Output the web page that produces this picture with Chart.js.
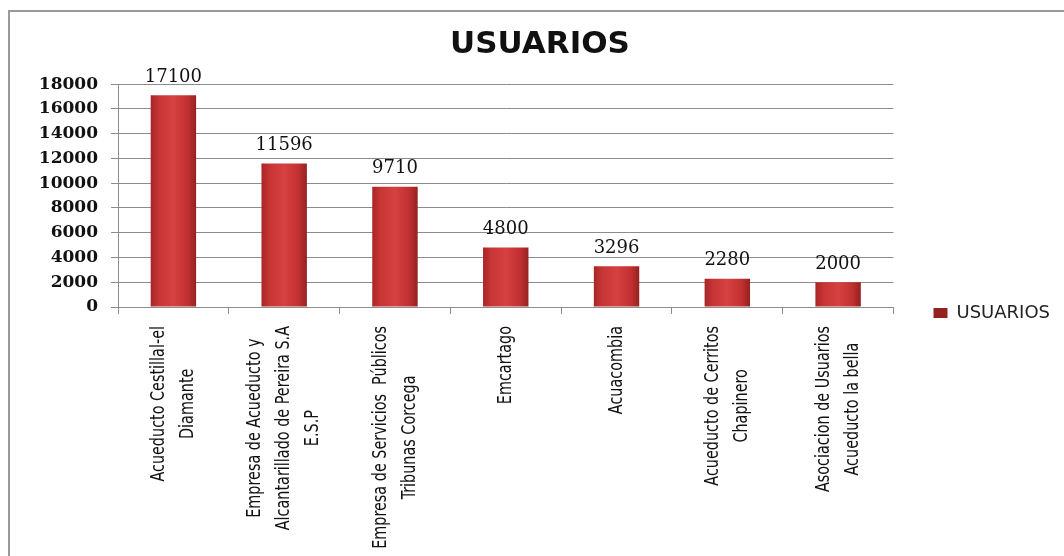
<!DOCTYPE html>
<html>
<head>
<meta charset="utf-8">
<script src="https://cdn.jsdelivr.net/npm/chart.js@4/dist/chart.umd.min.js"></script>
<style>
  body { margin: 0; background: #fff; }
</style>
</head>
<body>
<canvas id="usuarios" width="1064" height="556"></canvas>
<script>
// datos
const categorias = [
    ["Acueducto Cestillal-el", "Diamante"],
    ["Empresa de Acueducto y", "Alcantarillado de Pereira S.A", "E.S.P"],
    ["Empresa de Servicios  Públicos", "Tribunas Corcega"],
    ["Emcartago"],
    ["Acuacombia"],
    ["Acueducto de Cerritos", "Chapinero"],
    ["Asociacion de Usuarios", "Acueducto la bella"]
];
const usuarios = [17100, 11596, 9710, 4800, 3296, 2280, 2000];
const ticksY = [0, 2000, 4000, 6000, 8000, 10000, 12000, 14000, 16000, 18000];

const gris = '#8c8c8c';
const rojo = '#c33131';

// relleno rojo con efecto de volumen
function rellenoBarra(ctx) {
    const chart = ctx.chart;
    const x = chart.scales.x;
    if (ctx.type !== 'data' || !x || !x.width) return rojo;
    const cx = x.getPixelForValue(ctx.dataIndex);
    const mitad = x.width / categorias.length * 0.41 / 2;
    const g = chart.ctx.createLinearGradient(cx - mitad, 0, cx + mitad, 0);
    g.addColorStop(0, '#a82626');
    g.addColorStop(0.18, '#c73535');
    g.addColorStop(0.5, '#d64141');
    g.addColorStop(0.82, '#c13030');
    g.addColorStop(1, '#952121');
    return g;
}

// marco del grafico (solo arriba e izquierda)
const marco = {
    id: 'marco',
    beforeDraw(chart) {
        const c = chart.ctx;
        c.save();
        c.fillStyle = '#fff';
        c.fillRect(0, 0, chart.width, chart.height);
        c.strokeStyle = '#9a9a9a';
        c.lineWidth = 2;
        c.beginPath();
        c.moveTo(1064, 11);
        c.lineTo(9, 11);
        c.lineTo(9, 556);
        c.stroke();
        c.restore();
    }
};

// valores encima de cada barra
const valores = {
    id: 'valores',
    afterDatasetsDraw(chart) {
        const c = chart.ctx;
        c.save();
        c.font = '18px "DejaVu Serif", serif';
        c.fillStyle = '#111';
        c.textAlign = 'center';
        c.textBaseline = 'middle';
        chart.getDatasetMeta(0).data.forEach((barra, i) => {
            c.fillText(String(usuarios[i]), barra.x, barra.y - 18);
        });
        c.restore();
    }
};

// etiquetas verticales del eje x, lineas centradas
const etiquetasX = {
    id: 'etiquetasX',
    afterDraw(chart) {
        const x = chart.scales.x;
        const c = chart.ctx;
        c.save();
        c.font = '16px "Liberation Sans Narrow", "DejaVu Sans Condensed", sans-serif';
        c.fillStyle = '#111';
        c.textAlign = 'center';
        c.textBaseline = 'middle';
        categorias.forEach((lineas, i) => {
            const cx = x.getPixelForValue(i);
            const ancho = Math.max(...lineas.map(l => c.measureText(l).width));
            const cy = x.top + 19 + ancho / 2;
            lineas.forEach((l, k) => {
                c.save();
                c.translate(cx + (k - (lineas.length - 1) / 2) * 29, cy);
                c.rotate(-Math.PI / 2);
                c.scale(1, 1.22);
                c.fillText(l, 0, 0);
                c.restore();
            });
        });
        c.restore();
    }
};

new Chart(document.getElementById("usuarios"), {
    type: 'bar',
    data: {
        labels: categorias,
        datasets: [{
            label: "USUARIOS",
            data: usuarios,
            backgroundColor: rellenoBarra,
            borderWidth: 0,
            categoryPercentage: 1,
            barPercentage: 0.41
        }]
    },
    options: {
        responsive: false,
        animation: false,
        layout: { padding: { left: 20, right: 4, top: 20, bottom: -50 } },
        plugins: {
            title: {
                display: true,
                text: 'USUARIOS',
                color: '#111',
                font: { family: '"DejaVu Sans", sans-serif', size: 31, weight: 'bold', lineHeight: 1.2 },
                padding: { top: 6, bottom: 21 }
            },
            legend: {
                position: 'right',
                labels: {
                    color: '#222',
                    font: { family: '"DejaVu Sans", sans-serif', size: 18 },
                    boxWidth: 14,
                    boxHeight: 10,
                    padding: 40
                }
            },
            tooltip: { enabled: false }
        },
        scales: {
            x: {
                offset: true,
                grid: { drawOnChartArea: false, drawTicks: true, tickLength: 7, color: gris },
                border: { color: gris, width: 1 },
                ticks: { display: false },
                afterFit(s) { s.height = 299; }
            },
            y: {
                min: ticksY[0],
                max: ticksY[ticksY.length - 1],
                ticks: {
                    stepSize: ticksY[1] - ticksY[0],
                    color: '#111',
                    padding: 13,
                    font: { family: '"DejaVu Serif", serif', size: 17, weight: 'bold' },
                    callback: v => String(v)
                },
                grid: { color: gris, tickLength: 7 },
                border: { color: gris, width: 1 },
                afterFit(s) { s.width = 98; }
            }
        }
    },
    plugins: [marco, valores, etiquetasX]
});
</script>
</body>
</html>
